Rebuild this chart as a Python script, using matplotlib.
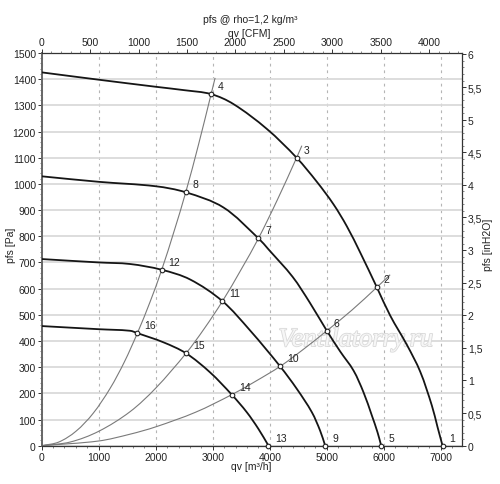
import matplotlib
matplotlib.use('Agg')
import numpy as np
import matplotlib.pyplot as plt
from matplotlib.ticker import MultipleLocator, FuncFormatter
from matplotlib.path import Path
from matplotlib.patches import PathPatch
import matplotlib.patheffects as pe

plt.rcParams['font.family'] = ['Liberation Sans', 'DejaVu Sans']
plt.rcParams['font.size'] = 7.5

# ---------------- data ----------------
fan1_q = [0, 1000, 2000, 2500, 2971, 3362, 3948, 4470, 4825, 5117, 5351, 5585, 5877, 6111, 6404, 6637, 6842, 6940, 7029]
fan1_p = [1426, 1398, 1371, 1358, 1343, 1305, 1210, 1100, 1008, 922, 838, 738, 605, 497, 385, 283, 153, 72, 0]

fan2_q = [0, 1000, 2000, 2526, 3187, 3801, 3977, 4400, 4700, 5000, 5234, 5468, 5643, 5790, 5889, 5953]
fan2_p = [1029, 1008, 991, 968, 910, 792, 750, 645, 547, 439, 360, 287, 204, 115, 51, 0]

fan3_q = [0, 1000, 1550, 2105, 2602, 3170, 3655, 4181, 4474, 4737, 4883, 4971]
fan3_p = [713, 700, 694, 672, 635, 552, 440, 303, 217, 128, 57, 0]

fan4_q = [0, 1000, 1550, 1678, 2134, 2532, 2953, 3333, 3596, 3801, 3977]
fan4_p = [457, 445, 439, 430, 395, 353, 280, 195, 128, 64, 0]

sysA_q = [0, 300, 600, 900, 1200, 1450, 1678, 1900, 2105, 2320, 2526, 2750, 2971, 3041]
sysA_p = [0, 14, 55, 123, 219, 320, 430, 549, 672, 818, 968, 1150, 1343, 1405]

sysB_q = [0, 500, 1000, 1550, 2000, 2532, 2850, 3170, 3500, 3801, 4130, 4470, 4562]
sysB_p = [0, 14, 55, 130, 220, 353, 447, 552, 674, 792, 938, 1100, 1146]

sysC_q = [0, 1000, 1550, 2000, 2700, 3333, 3750, 4181, 4600, 5000, 5440, 5877, 6110]
sysC_p = [0, 18, 44, 72, 128, 195, 246, 303, 370, 439, 518, 605, 653]

point_q = [7029, 5877, 4470, 2971, 5953, 5000, 3801, 2526, 4971, 4181, 3170, 2105, 3977, 3333, 2532, 1678]
point_p = [0, 605, 1100, 1343, 0, 439, 792, 968, 0, 303, 552, 672, 0, 195, 353, 430]
point_labels = ['1', '2', '3', '4', '5', '6', '7', '8', '9', '10', '11', '12', '13', '14', '15', '16']

title_text = 'pfs @ rho=1,2 kg/m³'
xlabel_bottom = 'qv [m³/h]'
xlabel_top = 'qv [CFM]'
ylabel_left = 'pfs [Pa]'
ylabel_right = 'pfs [inH2O]'
watermark = 'Ventilatorry.ru'

CFM = 1.69901      # m3/h per CFM
INH2O = 249.089    # Pa per inH2O
XMAX, YMAX = 7370, 1500

# ---------------- figure ----------------
W, H = 500, 485
fig = plt.figure(figsize=(W / 100, H / 100), dpi=100)
L, R, T, B = 41.67, 462.0, 54.0, 446.7
ax = fig.add_axes([L / W, 1 - B / H, (R - L) / W, (B - T) / H])
ax.set_xlim(0, XMAX)
ax.set_ylim(0, YMAX)

ax.xaxis.set_major_locator(MultipleLocator(1000))
ax.xaxis.set_minor_locator(MultipleLocator(200))
ax.yaxis.set_major_locator(MultipleLocator(100))
ax.yaxis.set_minor_locator(MultipleLocator(20))

ax.grid(axis='y', which='major', color='#dadada', lw=1.3, zorder=0)
ax.grid(axis='x', which='major', color='#b5b5b5', lw=0.8, ls=(0, (2.5, 3.5)), zorder=0)
ax.set_axisbelow(True)

for s in ax.spines.values():
    s.set_color('#333333')
    s.set_linewidth(0.9)
ax.spines['left'].set_color('#666666')
ax.spines['left'].set_linewidth(1.4)

ax.tick_params(which='major', length=3, width=0.7, pad=1.2, colors='#333333', labelcolor='#222222')
ax.tick_params(which='minor', length=1.6, width=0.5, colors='#555555')

# scale factors (screen-like units) used only to shape smooth Bezier segments
SX = (R - L) / XMAX
SY = (B - T) / YMAX


def smooth_curve(q, p, **kw):
    """Draw a smooth curve passing through the read points (cubic Bezier segments)."""
    pts = np.column_stack([np.asarray(q, float) * SX, np.asarray(p, float) * SY])
    n = len(pts)
    tang = []
    for i in range(n):
        a = pts[max(i - 1, 0)]
        b = pts[min(i + 1, n - 1)]
        d = b - a
        tang.append(d / np.linalg.norm(d))
    verts = [pts[0]]
    codes = [Path.MOVETO]
    for i in range(n - 1):
        seg = np.linalg.norm(pts[i + 1] - pts[i])
        verts += [pts[i] + tang[i] * seg / 3, pts[i + 1] - tang[i + 1] * seg / 3, pts[i + 1]]
        codes += [Path.CURVE4] * 3
    verts = np.array(verts) / np.array([SX, SY])
    patch = PathPatch(Path(verts, codes), facecolor='none', **kw)
    ax.add_patch(patch)
    return patch


# watermark
ax.text(0.748, 0.269, watermark, transform=ax.transAxes, ha='center', va='center',
        fontsize=19, family='Liberation Serif', style='italic', color='#f6f6f6',
        path_effects=[pe.withStroke(linewidth=1.2, foreground='#d9d9d9')], zorder=1)

# system curves
for q, p in [(sysA_q, sysA_p), (sysB_q, sysB_p), (sysC_q, sysC_p)]:
    smooth_curve(q, p, edgecolor='#7a7a7a', lw=0.8, zorder=2)

# fan curves
for q, p in [(fan1_q, fan1_p), (fan2_q, fan2_p), (fan3_q, fan3_p), (fan4_q, fan4_p)]:
    smooth_curve(q, p, edgecolor='#151515', lw=1.3, zorder=3, capstyle='round', joinstyle='round')

# operating points
ax.scatter(point_q, point_p, s=11, facecolor='white', edgecolor='#222222', linewidths=0.8,
           zorder=5, clip_on=False)
for q, p, lab in zip(point_q, point_p, point_labels):
    ax.annotate(lab, (q, p), xytext=(5, 3.6), textcoords='offset points',
                ha='left', va='baseline', fontsize=7.5, color='#222222', zorder=6)

# right axis (inH2O)
axr = ax.twinx()
axr.set_ylim(0, YMAX / INH2O)
axr.yaxis.set_major_locator(MultipleLocator(0.5))
axr.yaxis.set_minor_locator(MultipleLocator(0.1))
axr.yaxis.set_major_formatter(FuncFormatter(lambda v, pos: ('%g' % round(v, 2)).replace('.', ',')))
axr.tick_params(which='major', length=3, width=0.7, pad=1.2, colors='#333333', labelcolor='#222222')
axr.tick_params(which='minor', length=1.6, width=0.5, colors='#555555')
for s in axr.spines.values():
    s.set_visible(False)

# top axis (CFM)
axt = ax.twiny()
axt.set_xlim(0, XMAX / CFM)
axt.xaxis.set_major_locator(MultipleLocator(500))
axt.xaxis.set_minor_locator(MultipleLocator(100))
axt.tick_params(which='major', length=3, width=0.7, pad=1.2, colors='#333333', labelcolor='#222222')
axt.tick_params(which='minor', length=1.6, width=0.5, colors='#555555')
for s in axt.spines.values():
    s.set_visible(False)

# labels
fig.text(0.5, 1 - 20 / H, title_text, ha='center', va='center', fontsize=7.5, color='#222222')
fig.text(249 / W, 1 - 34 / H, xlabel_top, ha='center', va='center', fontsize=7.5, color='#222222')
fig.text(251.5 / W, 1 - 467 / H, xlabel_bottom, ha='center', va='center', fontsize=7.5, color='#222222')
fig.text(11.5 / W, 1 - 245 / H, ylabel_left, ha='center', va='center', rotation=90, fontsize=7.5, color='#222222')
fig.text(488 / W, 1 - 245 / H, ylabel_right, ha='center', va='center', rotation=90, fontsize=7.5, color='#222222')

fig.savefig('out.png', dpi=100, facecolor='white')
